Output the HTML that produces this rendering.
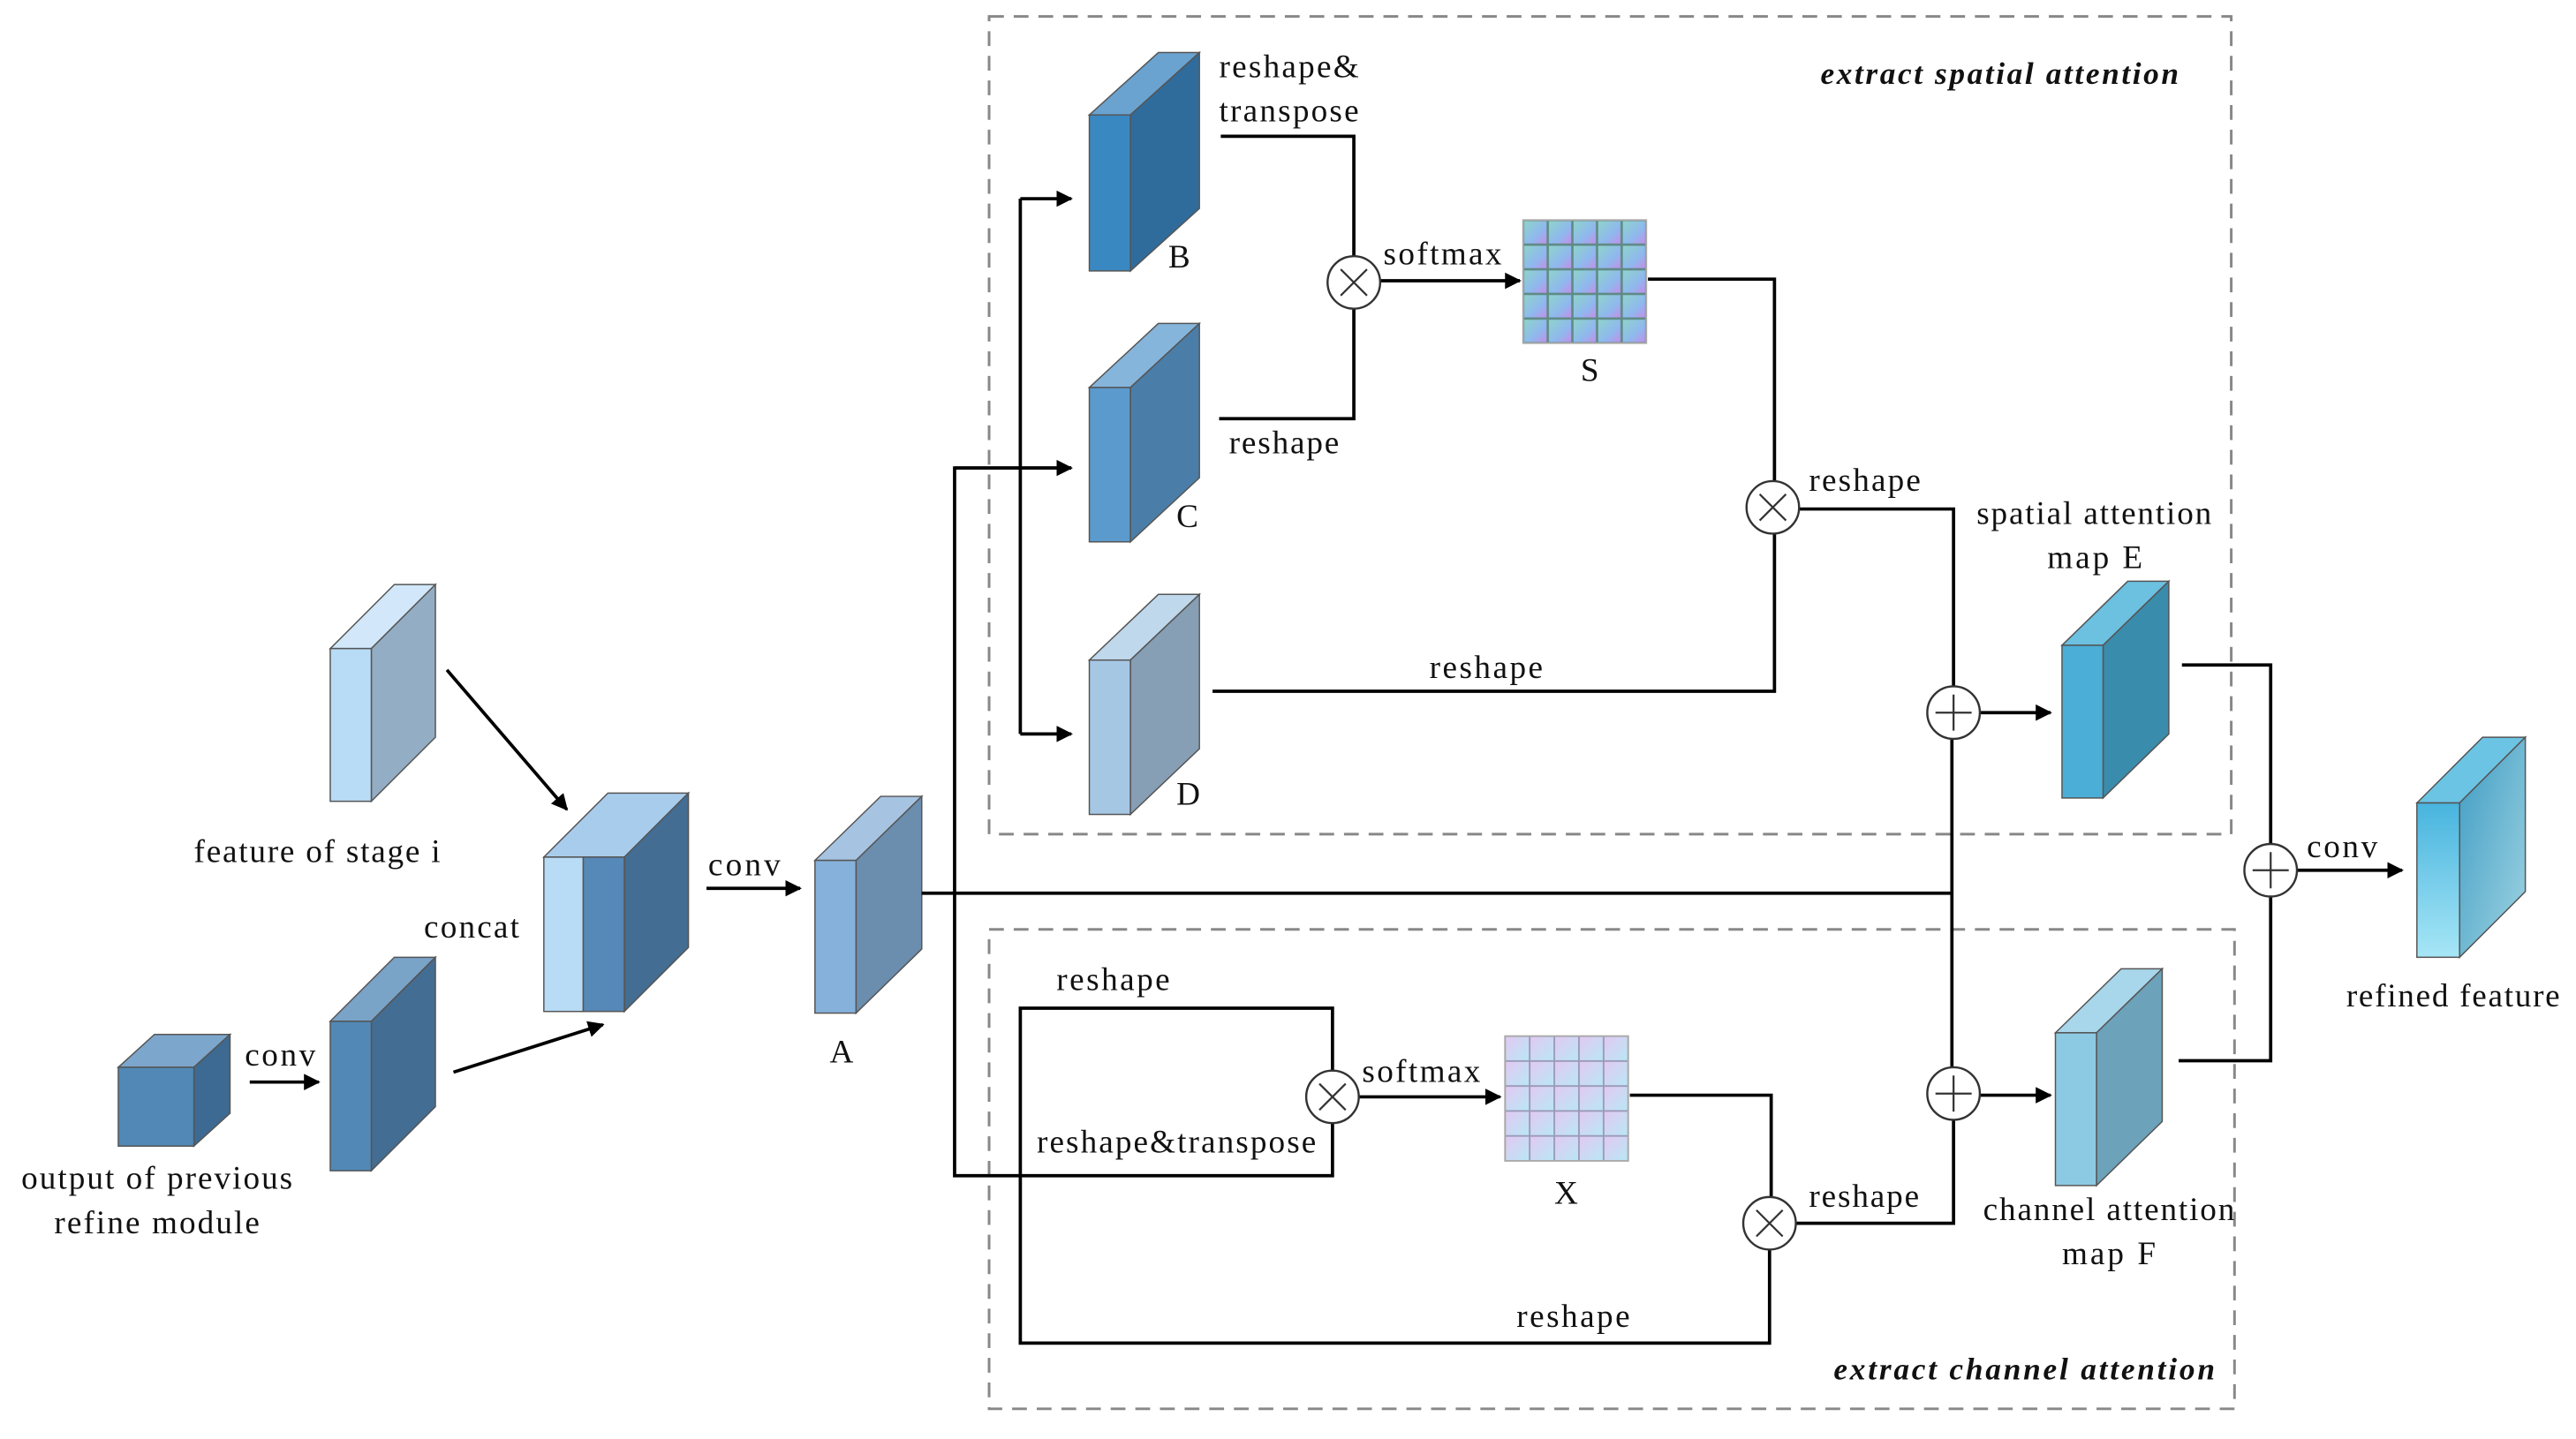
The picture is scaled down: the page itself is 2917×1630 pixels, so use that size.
<!DOCTYPE html>
<html><head><meta charset="utf-8"><style>html,body{margin:0;padding:0;background:#fff}svg{display:block}</style></head>
<body>
<svg width="2917" height="1630" viewBox="0 0 1560 872" preserveAspectRatio="none" xmlns="http://www.w3.org/2000/svg">
<defs>
<marker id="ar" markerWidth="10" markerHeight="10" refX="9" refY="5" orient="auto" markerUnits="userSpaceOnUse"><path d="M0,0 L10,5 L0,10 z" fill="#000"/></marker>
<linearGradient id="gs" x1="0" y1="0" x2="1" y2="1"><stop offset="0" stop-color="#8fd6c8"/><stop offset="0.6" stop-color="#8fb8ee"/><stop offset="1" stop-color="#c98be8"/></linearGradient>
<linearGradient id="gx" x1="0" y1="0" x2="1" y2="1"><stop offset="0" stop-color="#e3c8f2"/><stop offset="1" stop-color="#b8e8f4"/></linearGradient>
<pattern id="ps" x="927" y="134" width="15" height="15" patternUnits="userSpaceOnUse"><rect width="15" height="15" fill="url(#gs)"/><rect width="15" height="15" fill="none" stroke="#5f8a86" stroke-width="1.4"/></pattern>
<pattern id="px" x="916" y="631" width="15" height="15.2" patternUnits="userSpaceOnUse"><rect width="15" height="15.2" fill="url(#gx)"/><rect width="15" height="15.2" fill="none" stroke="#9a9ab8" stroke-width="1"/></pattern>
<linearGradient id="gr" x1="0" y1="0" x2="0" y2="1"><stop offset="0" stop-color="#48b4de"/><stop offset="1" stop-color="#a6e6f6"/></linearGradient>
<linearGradient id="grs" x1="0" y1="0" x2="1" y2="1"><stop offset="0" stop-color="#3f9cc4"/><stop offset="1" stop-color="#9fd4e2"/></linearGradient>
</defs>
<g transform="scale(0.995)">
<g stroke="#888" stroke-width="1.6" stroke-dasharray="9,6" fill="none">
<rect x="602" y="10" width="756" height="498"/>
<rect x="602" y="566" width="758" height="292"/>
</g>
<g stroke-width="0.8" stroke="#555">
<polygon points="663,70 705,32 730,32 688,70" fill="#6aa3d0"/><polygon points="688,70 730,32 730,127 688,165" fill="#2f6c9c"/><rect x="663" y="70" width="25" height="95" fill="#3a88c2"/>
<polygon points="663,236 705,197 730,197 688,236" fill="#86b5db"/><polygon points="688,236 730,197 730,291 688,330" fill="#4a7ea8"/><rect x="663" y="236" width="25" height="94" fill="#5b9acc"/>
<polygon points="663,402 705,362 730,362 688,402" fill="#c0d8ec"/><polygon points="688,402 730,362 730,456 688,496" fill="#879fb5"/><rect x="663" y="402" width="25" height="94" fill="#a6c7e4"/>
<polygon points="201,395 240,356 265,356 226,395" fill="#d2e8fa"/><polygon points="226,395 265,356 265,449 226,488" fill="#93adc4"/><rect x="201" y="395" width="25" height="93" fill="#b8dcf6"/>
<polygon points="331,522 370,483 419,483 380,522" fill="#a8ccec"/><polygon points="380,522 419,483 419,577 380,616" fill="#436d93"/><rect x="331" y="522" width="24" height="94" fill="#b8dcf6"/><rect x="355" y="522" width="25" height="94" fill="#5688b8"/>
<polygon points="72,650 94,630 140,630 118,650" fill="#7da6cc"/><polygon points="118,650 140,630 140,678 118,698" fill="#3d6a92"/><rect x="72" y="650" width="46" height="48" fill="#5188b6"/>
<polygon points="201,622 240,583 265,583 226,622" fill="#7aa3c8"/><polygon points="226,622 265,583 265,674 226,713" fill="#436d93"/><rect x="201" y="622" width="25" height="91" fill="#5188b6"/>
<polygon points="496,524 536,485 561,485 521,524" fill="#a6c4e2"/><polygon points="521,524 561,485 561,578 521,617" fill="#6b8dae"/><rect x="496" y="524" width="25" height="93" fill="#86b1da"/>
<polygon points="1255,393 1295,354 1320,354 1280,393" fill="#6cc0e0"/><polygon points="1280,393 1320,354 1320,447 1280,486" fill="#3a8cac"/><rect x="1255" y="393" width="25" height="93" fill="#4aaed6"/>
<polygon points="1251,629 1291,590 1316,590 1276,629" fill="#a8d6ea"/><polygon points="1276,629 1316,590 1316,683 1276,722" fill="#6ca2ba"/><rect x="1251" y="629" width="25" height="93" fill="#8ccae4"/>
<polygon points="1471,489 1511,449 1537,449 1497,489" fill="#6cc4e4"/><polygon points="1497,489 1537,449 1537,543 1497,583" fill="url(#grs)"/><rect x="1471" y="489" width="26" height="94" fill="url(#gr)"/>
</g>
<rect x="927" y="134" width="75" height="75" fill="url(#ps)" stroke="#aaa"/>
<rect x="916" y="631" width="75" height="76" fill="url(#px)" stroke="#aaa"/>
<g fill="none" stroke="#000" stroke-width="2">
<polyline points="743,83 824,83 824,156"/>
<polyline points="742,255 824,255 824,188"/>
<line x1="840" y1="171" x2="925" y2="171" marker-end="url(#ar)"/>
<polyline points="1003,170 1080,170 1080,293"/>
<polyline points="738,421 1080,421 1080,325"/>
<polyline points="1095,310 1189,310 1189,418"/>
<line x1="1205" y1="434" x2="1248" y2="434" marker-end="url(#ar)"/>
<polyline points="561,544 1188,544"/>
<line x1="1188" y1="450" x2="1188" y2="650"/>
<polyline points="652,285 581,285 581,716 811,716 811,684"/>
<line x1="581" y1="285" x2="652" y2="285" marker-end="url(#ar)"/>
<polyline points="621,121 621,447"/>
<line x1="621" y1="121" x2="652" y2="121" marker-end="url(#ar)"/>
<line x1="621" y1="447" x2="652" y2="447" marker-end="url(#ar)"/>
<polyline points="811,652 811,614 621,614 621,818 1077,818 1077,761"/>
<line x1="827" y1="668" x2="913" y2="668" marker-end="url(#ar)"/>
<polyline points="992,667 1078,667 1078,729"/>
<polyline points="1093,745 1189,745 1189,682"/>
<line x1="1205" y1="667" x2="1248" y2="667" marker-end="url(#ar)"/>
<polyline points="1328,405 1382,405 1382,514"/>
<polyline points="1326,646 1382,646 1382,546"/>
<line x1="1398" y1="530" x2="1462" y2="530" marker-end="url(#ar)"/>
<line x1="272" y1="408" x2="345" y2="493" marker-end="url(#ar)"/>
<line x1="276" y1="653" x2="367" y2="624" marker-end="url(#ar)"/>
<line x1="430" y1="541" x2="487" y2="541" marker-end="url(#ar)"/>
<line x1="152" y1="659" x2="194" y2="659" marker-end="url(#ar)"/>
</g>
<g fill="#fff" stroke="#333" stroke-width="1.3">
<circle cx="824" cy="172" r="16"/><circle cx="1079" cy="309" r="16"/><circle cx="811" cy="668" r="16"/><circle cx="1077" cy="745" r="16"/>
<circle cx="1189" cy="434" r="16"/><circle cx="1189" cy="666" r="16"/><circle cx="1382" cy="530" r="16"/>
</g>
<g stroke="#333" stroke-width="1.2">
<path d="M816,164 l16,16 M832,164 l-16,16"/><path d="M1071,301 l16,16 M1087,301 l-16,16"/><path d="M803,660 l16,16 M819,660 l-16,16"/><path d="M1069,737 l16,16 M1085,737 l-16,16"/>
<path d="M1178,434 h22 M1189,423 v22"/><path d="M1178,666 h22 M1189,655 v22"/><path d="M1371,530 h22 M1382,519 v22"/>
</g>
<g fill="#111" font-family="Liberation Serif, Times New Roman, DejaVu Serif, serif" font-size="20" lengthAdjust="spacing">
<text x="742" y="47" textLength="85">reshape&amp;</text><text x="742" y="74" textLength="85">transpose</text>
<text x="711" y="163">B</text><text x="716" y="321">C</text><text x="716" y="490">D</text>
<text x="842" y="161" textLength="72">softmax</text><text x="962" y="232">S</text>
<text x="748" y="276" textLength="67">reshape</text><text x="1101" y="299" textLength="68">reshape</text>
<text x="1203" y="319" textLength="143">spatial attention</text><text x="1246" y="346" textLength="58">map E</text>
<text x="870" y="413" textLength="69">reshape</text>
<text x="118" y="525" textLength="150">feature of stage i</text>
<text x="258" y="571" textLength="58">concat</text><text x="431" y="533" textLength="44">conv</text><text x="505" y="647">A</text>
<text x="149" y="649" textLength="43">conv</text>
<text x="13" y="724" textLength="165">output of previous</text><text x="33" y="751" textLength="125">refine module</text>
<text x="643" y="603" textLength="69">reshape</text><text x="631" y="702" textLength="170">reshape&amp;transpose</text>
<text x="829" y="659" textLength="72">softmax</text><text x="946" y="733">X</text>
<text x="1101" y="735" textLength="67">reshape</text><text x="923" y="808" textLength="69">reshape</text>
<text x="1207" y="743" textLength="153">channel attention</text><text x="1255" y="770" textLength="57">map F</text>
<text x="1404" y="522" textLength="43">conv</text><text x="1428" y="613" textLength="130">refined feature</text>
<text x="1108" y="51" font-style="italic" font-weight="bold" font-size="19" textLength="218">extract spatial attention</text>
<text x="1116" y="840" font-style="italic" font-weight="bold" font-size="19" textLength="232">extract channel attention</text>
</g>
</g>
</svg>
</body></html>
